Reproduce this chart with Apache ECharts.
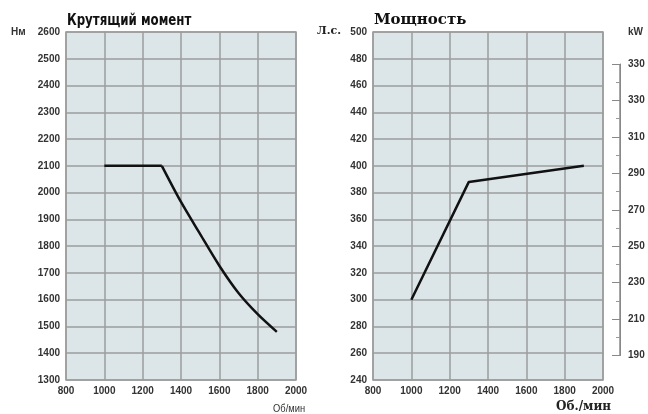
<!DOCTYPE html>
<html><head><meta charset="utf-8">
<script src="https://cdn.jsdelivr.net/npm/echarts@6/dist/echarts.min.js"></script>
<style>html,body{margin:0;padding:0;background:#fff}#c{width:648px;height:414px}</style>
</head><body><div id="c"></div>
<script>
// Data
const torqueRpm = [1000, 1300, 1400, 1500, 1600, 1700, 1800, 1900];
const torqueNm  = [2100, 2100, 1965, 1845, 1727, 1625, 1546, 1480];
const powerRpm  = [1000, 1300, 1900];
const powerHp   = [300, 388, 400];
const kwTickLabels = ["190", "210", "230", "250", "270", "290", "310", "330", "330"];
const xTicks = [800, 1000, 1200, 1400, 1600, 1800, 2000];

const chart = echarts.init(document.getElementById('c'), null, {renderer: 'canvas'});
const gridBg = '#dce5e8';
const gridLine = {show: true, lineStyle: {color: '#9c9c9c', width: 1.5}};
const lbl = {fontFamily: 'Liberation Sans', fontWeight: 'bold', fontSize: 10, color: '#333', formatter: v => String(v)};

function xAx(gi) {
  return {gridIndex: gi, type: 'value', min: xTicks[0], max: xTicks[xTicks.length-1], interval: 200,
    axisLine: {show: false}, axisTick: {show: false}, splitLine: gridLine,
    axisLabel: Object.assign({margin: 6}, lbl)};
}

const torquePts = torqueRpm.map((r, i) => [r, torqueNm[i]]);

chart.setOption({
  animation: false,
  grid: [
    {left: 66, top: 32, width: 230, height: 348, show: true, backgroundColor: gridBg, borderColor: '#9c9c9c', borderWidth: 1.5},
    {left: 373, top: 32, width: 230, height: 348, show: true, backgroundColor: gridBg, borderColor: '#9c9c9c', borderWidth: 1.5},
    {left: 620, top: 64, width: 0.01, bottom: 58.5, show: true, backgroundColor: 'transparent', borderColor: '#888', borderWidth: 1}
  ],
  xAxis: [xAx(0), xAx(1), {gridIndex: 2, type: 'value', min: 0, max: 1,
    axisLine: {show: false}, axisTick: {show: false}, axisLabel: {show: false}, splitLine: {show: false}}],
  yAxis: [
    {gridIndex: 0, type: 'value', min: 1300, max: 2600, interval: 100,
     axisLine: {show: false}, axisTick: {show: false}, splitLine: gridLine,
     axisLabel: Object.assign({margin: 6}, lbl)},
    {gridIndex: 1, type: 'value', min: 240, max: 500, interval: 20,
     axisLine: {show: false}, axisTick: {show: false}, splitLine: gridLine,
     axisLabel: Object.assign({margin: 6}, lbl)},
    {gridIndex: 2, type: 'value', position: 'right', min: 190, max: 350, interval: 20,
     axisLine: {show: true, onZero: false, lineStyle: {color: '#888', width: 1}},
     axisTick: {show: true, inside: true, length: 8, lineStyle: {color: '#888'}},
     minorTick: {show: true, splitNumber: 2, length: 4, lineStyle: {color: '#999'}},
     splitLine: {show: false},
     axisLabel: Object.assign({}, lbl, {margin: 8, formatter: (v, i) => kwTickLabels[i]})}
  ],
  series: [
    {type: 'line', xAxisIndex: 0, yAxisIndex: 0, symbol: 'none',
     data: torquePts.slice(0, 2),
     lineStyle: {color: '#111', width: 2.5}},
    {type: 'line', xAxisIndex: 0, yAxisIndex: 0, symbol: 'none', smooth: 0.3,
     data: torquePts.slice(1),
     lineStyle: {color: '#111', width: 2.5}},
    {type: 'line', xAxisIndex: 1, yAxisIndex: 1, symbol: 'none',
     data: powerRpm.map((r, i) => [r, powerHp[i]]),
     lineStyle: {color: '#111', width: 2.5}}
  ],
  graphic: [
    {type: 'text', x: 67, y: 13, scaleX: 0.82, style: {text: 'Крутящий момент', font: 'bold 16px "DejaVu Sans Condensed", "DejaVu Sans"', fill: '#111'}},
    {type: 'text', left: 374, top: 13, style: {text: 'Мощность', font: 'bold 15px "DejaVu Serif"', fill: '#111'}},
    {type: 'text', left: 11, top: 27, style: {text: 'Нм', font: 'bold 10px "Liberation Sans"', fill: '#333'}},
    {type: 'text', left: 317, top: 26, style: {text: 'Л.с.', font: 'bold 11px "DejaVu Serif"', fill: '#222'}},
    {type: 'text', left: 628, top: 27, style: {text: 'kW', font: 'bold 10px "Liberation Sans"', fill: '#333'}},
    {type: 'text', x: 273, y: 403, scaleX: 0.85, style: {text: 'Об/мин', font: '11px "Liberation Sans"', fill: '#333'}},
    {type: 'text', left: 556, top: 401, style: {text: 'Об./мин', font: 'bold 12px "DejaVu Serif"', fill: '#222'}}
  ]
});
</script></body></html>
